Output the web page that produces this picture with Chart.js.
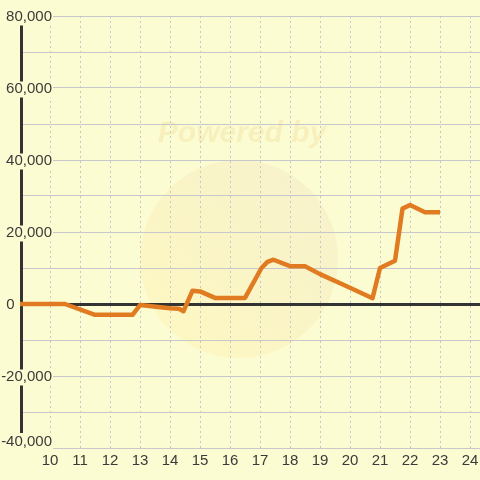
<!DOCTYPE html>
<html>
<head>
<meta charset="utf-8">
<script src="https://cdn.jsdelivr.net/npm/chart.js@4/dist/chart.umd.min.js"></script>
<style>
  body { margin: 0; background: #fcfcd3; }
  canvas { display: block; }
</style>
</head>
<body>
<canvas id="myChart" width="480" height="480"></canvas>
<script>
// data
const hours = [9, 10.5, 11.5, 12.75, 13, 14, 14.3, 14.45, 14.75, 15, 15.5, 16.5, 17.05, 17.25, 17.45, 18, 18.5, 19, 20, 20.75, 21, 21.5, 21.75, 22, 22.5, 23];
const profit = [0, 0, -3000, -3000, -300, -1200, -1300, -2000, 3700, 3500, 1700, 1700, 10000, 11700, 12300, 10500, 10500, 8300, 4500, 1600, 10000, 12000, 26500, 27500, 25500, 25500];
const xTicks = [10, 11, 12, 13, 14, 15, 16, 17, 18, 19, 20, 21, 22, 23, 24];
const yTicks = [-40000, -30000, -20000, -10000, 0, 10000, 20000, 30000, 40000, 50000, 60000, 70000, 80000];

const BG = "#fcfcd3";
const TEXT = "#3a3a3a";
const FONT = "'Liberation Sans', Arial, sans-serif";

// labels sit across the axis, right edge at x=52
const m = document.createElement("canvas").getContext("2d");
m.font = "15px " + FONT;
const widest = m.measureText("-40,000").width;

// faint "Powered by" watermark behind the plot
const watermark = {
  id: "watermark",
  beforeDraw(chart) {
    const c = chart.ctx;
    c.save();
    c.fillStyle = BG;
    c.fillRect(0, 0, chart.width, chart.height);
    const g = c.createLinearGradient(320, 180, 170, 340);
    g.addColorStop(0, "#f7f2cb");
    g.addColorStop(1, "#fdf7c2");
    c.fillStyle = g;
    c.beginPath();
    c.arc(239, 259, 99, 0, Math.PI * 2);
    c.fill();
    c.font = "italic bold 30px " + FONT;
    c.fillStyle = "#f7f0bd";
    c.textAlign = "center";
    c.textBaseline = "middle";
    c.fillText("Powered by", 242, 134);
    c.restore();
  },
  // box under the lowest y label (it sits above its grid line)
  beforeDatasetsDraw(chart) {
    const y = chart.scales.y.getPixelForValue(yTicks[0]);
    const c = chart.ctx;
    c.save();
    c.fillStyle = BG;
    c.fillRect(52 - widest - 2, y - 15, widest + 3, 16);
    c.restore();
  },
};

const points = hours.map((h, i) => ({ x: h, y: profit[i] }));

new Chart(document.getElementById("myChart"), {
  type: "line",
  data: {
    datasets: [
      {
        data: points,
        borderColor: "#e07b22",
        borderWidth: 4.5,
        borderJoinStyle: "round",
        pointRadius: 0,
        tension: 0,
        clip: false,
      },
    ],
  },
  options: {
    responsive: false,
    animation: false,
    layout: { padding: { top: 16, left: 0, right: 0, bottom: 0 } },
    plugins: { legend: { display: false }, tooltip: { enabled: false } },
    scales: {
      x: {
        type: "linear",
        min: 9 + 1 / 30,
        max: 24 + 1 / 3,
        afterBuildTicks: (scale) => {
          scale.ticks = xTicks.map((v) => ({ value: v }));
        },
        afterFit: (scale) => {
          scale.height = 32;
          scale.paddingLeft = 0;
          scale.paddingRight = 0;
        },
        grid: { color: "#c8c8cc", lineWidth: 1, drawTicks: false },
        border: { display: false, dash: [2, 3] },
        ticks: {
          padding: 5,
          color: TEXT,
          font: { family: FONT, size: 15, lineHeight: 1 },
          callback: (v) => String(v),
        },
      },
      y: {
        min: -40000,
        max: 80000,
        afterBuildTicks: (scale) => {
          scale.ticks = yTicks.map((v) => ({ value: v }));
        },
        afterFit: (scale) => {
          scale.width = 21;
          scale.paddingTop = 0;
          scale.paddingBottom = 0;
        },
        grid: {
          drawTicks: false,
          color: (ctx) => (ctx.tick && ctx.tick.value === 0 ? "#333333" : "#c8c8cc"),
          lineWidth: (ctx) => (ctx.tick && ctx.tick.value === 0 ? 3 : 1),
        },
        border: { color: "#333333", width: 3 },
        ticks: {
          z: 1,
          mirror: true,
          crossAlign: "far",
          padding: 31 - widest,
          labelOffset: 1,
          color: TEXT,
          font: { family: FONT, size: 15, lineHeight: 1 },
          showLabelBackdrop: (ctx) => {
            const v = ctx.tick ? ctx.tick.value : 1;
            return v % 20000 === 0 && v !== 0 && v !== yTicks[0];
          },
          backdropColor: BG,
          backdropPadding: { top: 0, bottom: 1, left: 2, right: 1 },
          callback: (v) => {
            if (v % 20000 !== 0) return "";
            if (v === 0) return "0         ";
            const s = v.toLocaleString("en-US");
            return v === yTicks[0] ? [s, ""] : s;
          },
        },
      },
    },
  },
  plugins: [watermark],
});
</script>
</body>
</html>
